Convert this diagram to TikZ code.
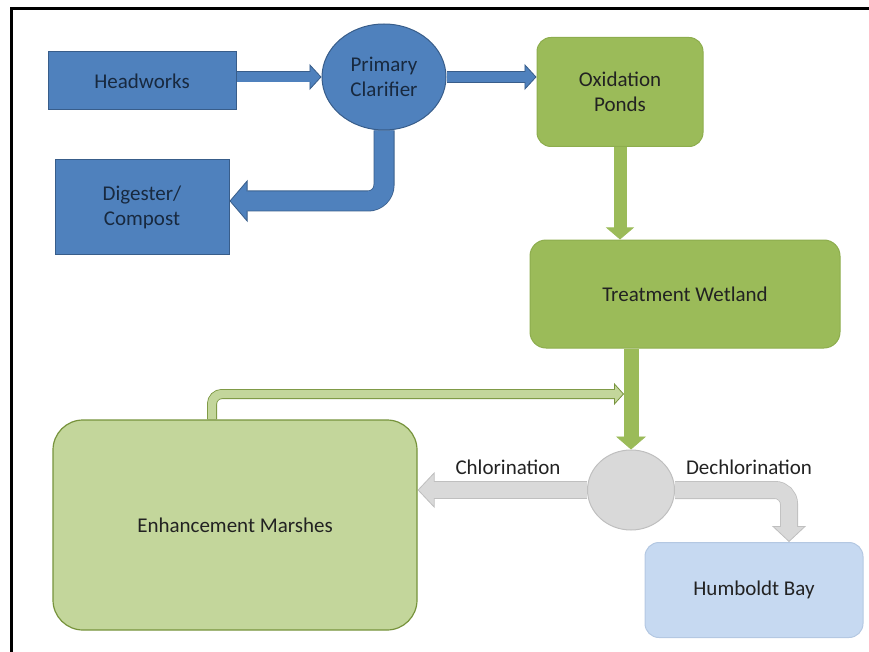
\documentclass[tikz,border=0pt]{standalone}
\usepackage{fontspec}
\setmainfont{Carlito}
\usepackage{tikz}
\usetikzlibrary{shapes.geometric}
\usetikzlibrary{arrows.meta}
\usetikzlibrary{backgrounds}
\definecolor{bluefill}{HTML}{4F81BD}
\definecolor{blueline}{HTML}{385D8A}
\definecolor{bluetext}{HTML}{18293F}
\definecolor{greenfill}{HTML}{9BBB59}
\definecolor{greenline}{HTML}{8DAD4D}
\definecolor{marshfill}{HTML}{C3D69B}
\definecolor{marshline}{HTML}{77933C}
\definecolor{grayfill}{HTML}{D9D9D9}
\definecolor{grayline}{HTML}{BFBFBF}
\definecolor{bayfill}{HTML}{C6D9F1}
\definecolor{bayline}{HTML}{B4C8E2}
\definecolor{darktext}{HTML}{222222}
\tikzset{
  flowtext/.style={font=\fontsize{21}{25}\selectfont, align=center, inner sep=0pt},
  blueblock/.style={flowtext, rectangle, draw=blueline, line width=1pt, fill=bluefill, text=bluetext},
  bluehub/.style={flowtext, ellipse, draw=blueline, line width=1pt, fill=bluefill, text=bluetext},
  greenblock/.style={flowtext, rectangle, rounded corners=14pt, draw=greenline, line width=1pt, fill=greenfill, text=darktext},
  marsh/.style={flowtext, rectangle, rounded corners=30pt, draw=marshline, line width=1.2pt, fill=marshfill, text=darktext},
  grayhub/.style={ellipse, draw=grayline, line width=1pt, fill=grayfill, inner sep=0pt},
  bay/.style={flowtext, rectangle, rounded corners=14pt, draw=bayline, line width=1pt, fill=bayfill, text=darktext},
  flowlabel/.style={flowtext, text=darktext}
}
% fill, outline, shaft width, head length, head width, path
\newcommand{\fatarrow}[6]{
  \draw[draw=#2, line width=#3, -{Triangle[length=#4, width=#5, line width=0.8pt, fill=#1]}] #6;
  \draw[draw=#1, line width=#3-1.6pt, shorten >=#4-2pt] #6;}

\begin{document}
\begin{tikzpicture}[x=1pt,y=-1pt]
\useasboundingbox (0,0) rectangle (869,652);
% frame
\draw[line width=3pt] (11.5,652) -- (11.5,9) -- (869,9);
% top row
\node[blueblock, minimum width=188pt, minimum height=58pt] (hw) at (142,81) {Headworks};
\node[bluehub, minimum width=124pt, minimum height=106pt] (clar) at (384,77) {Primary\\Clarifier};
\node[greenblock, minimum width=166pt, minimum height=109pt] (ox) at (620,92) {Oxidation\\Ponds};
\node[blueblock, minimum width=174pt, minimum height=95pt] (dig) at (142,207) {Digester/\\Compost};
% middle
\node[greenblock, rounded corners=16pt, minimum width=310pt, minimum height=108pt] (tw) at (685,294) {Treatment Wetland};
% bottom row
\node[marsh, minimum width=364pt, minimum height=210pt] (em) at (235,525) {Enhancement Marshes};
\node[grayhub, minimum width=87pt, minimum height=80pt] (hub) at (631,490) {};
\node[bay, minimum width=218pt, minimum height=95pt] (hb) at (754,590) {Humboldt Bay};
% labels on the gray arrows
\node[flowlabel] (chl) at (508,467) {Chlorination};
\node[flowlabel] (dechl) at (749,467) {Dechlorination};
\coordinate (ret) at (624,394);
\coordinate (drop) at ([xshift=35pt]hb.north);
\begin{pgfonlayer}{background}
% blue arrows
\fatarrow{bluefill}{blueline}{11pt}{12pt}{26pt}{(hw.east |- clar) -- (clar.west)}
\fatarrow{bluefill}{blueline}{12pt}{12pt}{26pt}{(clar) -- (clar -| ox.west)}
\fatarrow{bluefill}{blueline}{21pt}{18pt}{42pt}{[rounded corners=16pt] (clar) |- ([yshift=6pt]dig.east)}
% green arrows
\fatarrow{greenfill}{greenfill}{13pt}{12pt}{28pt}{(ox.south) -- (ox.south |- tw.north)}
\fatarrow{greenfill}{greenfill}{15pt}{13pt}{30pt}{(hub |- tw.south) -- (hub.north)}
\fatarrow{marshfill}{marshline}{10pt}{10pt}{22pt}{[rounded corners=10pt] ([xshift=-23pt]em.north) |- (ret)}
% gray arrows
\fatarrow{grayfill}{grayline}{18pt}{17pt}{36pt}{(hub) -- (hub -| em.east)}
\fatarrow{grayfill}{grayline}{18pt}{16pt}{34pt}{[rounded corners=14pt] (hub) -| (drop)}
\end{pgfonlayer}
\end{tikzpicture}
\end{document}
